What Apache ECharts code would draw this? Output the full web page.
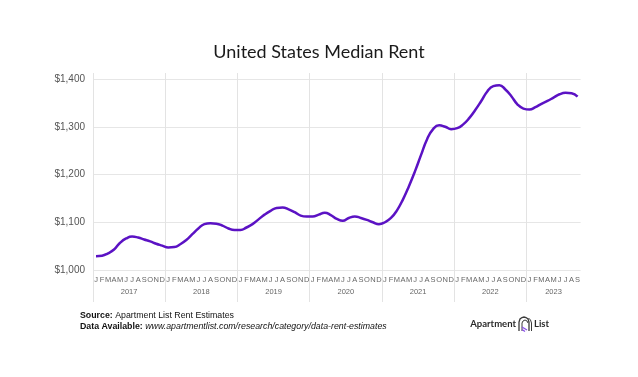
<!DOCTYPE html>
<html>
<head>
<meta charset="utf-8">
<script src="https://cdn.jsdelivr.net/npm/echarts@6/dist/echarts.min.js"></script>
<style>
html,body{margin:0;padding:0;background:#fff;}
#chart{width:638px;height:377px;}
</style>
</head>
<body>
<div id="chart"></div>
<script>
// ---- data ----
const years = ['2017','2018','2019','2020','2021','2022','2023'];
const monthLetters = ['J','F','M','A','M','J','J','A','S','O','N','D'];
const rent2017 = [1029,1030,1035,1043,1057,1066,1070,1068,1064,1060,1055,1051];
const rent2018 = [1047,1048,1054,1063,1075,1087,1096,1098,1097,1093,1087,1084];
const rent2019 = [1084,1089,1096,1106,1116,1124,1130,1131,1127,1121,1114,1112];
const rent2020 = [1112,1116,1120,1115,1107,1103,1109,1112,1109,1105,1100,1096];
const rent2021 = [1100,1109,1125,1148,1176,1207,1241,1274,1295,1303,1300,1295];
const rent2022 = [1297,1305,1318,1335,1354,1374,1385,1387,1378,1364,1347,1338];
const rent2023 = [1336,1341,1348,1354,1361,1368,1371,1370,1363];
const yTicks = [1000,1100,1200,1300,1400];

// ---- build ----
const rentByYear = [rent2017,rent2018,rent2019,rent2020,rent2021,rent2022,rent2023];
const categories = [];
const rent = [];
const yearCenters = {};
rentByYear.forEach((arr, yi) => {
  const start = categories.length;
  arr.forEach((v, mi) => {
    categories.push(years[yi] + '-' + (mi + 1));
    rent.push(v);
  });
  yearCenters[(start + categories.length) / 2] = years[yi];
});
const nMonths = categories.length;

const gridLeft = 93, gridWidth = 487.6;

const chart = echarts.init(document.getElementById('chart'), null, {renderer: 'canvas'});
chart.setOption({
  backgroundColor: '#ffffff',
  animation: false,
  title: {
    text: 'United States Median Rent',
    left: 'center',
    top: 38,
    textStyle: {fontFamily: 'Lato', fontSize: 18, fontWeight: 'normal', color: '#1a1a1a'}
  },
  grid: [
    {left: gridLeft, width: gridWidth, top: 73, height: 229},
    {left: gridLeft, width: gridWidth, top: 79, height: 191}
  ],
  xAxis: [
    {
      type: 'value', gridIndex: 0, min: 0, max: nMonths, interval: 12,
      axisLine: {show: false}, axisTick: {show: false}, axisLabel: {show: false},
      splitLine: {show: true, showMaxLine: false, lineStyle: {color: '#e3e3e3', width: 1}}
    },
    {
      type: 'category', gridIndex: 1, data: categories, boundaryGap: true, position: 'bottom',
      axisLine: {show: false}, axisTick: {show: false}, splitLine: {show: false},
      axisLabel: {
        interval: 0, margin: 6, fontSize: 7.5, color: '#666', fontFamily: 'Liberation Sans',
        formatter: (v) => monthLetters[(parseInt(v.split('-')[1]) - 1)]
      }
    },
    {
      type: 'value', gridIndex: 1, min: 0, max: nMonths, interval: 0.5, position: 'bottom',
      axisLine: {show: false}, axisTick: {show: false}, splitLine: {show: false},
      axisLabel: {
        margin: 17.5, fontSize: 7.5, color: '#666', fontFamily: 'Liberation Sans',
        formatter: (v) => yearCenters[v] || ''
      }
    }
  ],
  yAxis: [
    {type: 'value', gridIndex: 0, show: false, min: 0, max: 1, splitLine: {show: false}},
    {
      type: 'value', gridIndex: 1, min: yTicks[0], max: yTicks[yTicks.length - 1], interval: 100,
      axisLine: {show: false}, axisTick: {show: false},
      splitLine: {lineStyle: {color: '#e6e6e6', width: 1}},
      axisLabel: {
        margin: 8, fontSize: 10, color: '#555', fontFamily: 'Liberation Sans',
        formatter: (v) => '$' + v.toLocaleString('en-US')
      }
    }
  ],
  series: [{
    type: 'line', xAxisIndex: 1, yAxisIndex: 1, data: rent,
    smooth: 0.5, showSymbol: false,
    lineStyle: {color: '#5b12c4', width: 2.5}
  }],
  graphic: [
    {
      type: 'text', left: 80, top: 310,
      style: {
        text: '{b|Source:} Apartment List Rent Estimates\n{b|Data Available:} {i|www.apartmentlist.com/research/category/data-rent-estimates}',
        fontFamily: 'Liberation Sans', fontSize: 8.8, fill: '#111', lineHeight: 11,
        rich: {
          b: {fontWeight: 'bold', fontFamily: 'Liberation Sans', fontSize: 8.8, fill: '#111', lineHeight: 11},
          i: {fontStyle: 'italic', fontFamily: 'Liberation Sans', fontSize: 8.8, fill: '#111', lineHeight: 11}
        }
      }
    },
    {
      type: 'text', x: 516, y: 324,
      style: {text: 'Apartment', fontFamily: 'Lato', fontSize: 9.5, fontWeight: 'bold', fill: '#2a2a2a', align: 'right', verticalAlign: 'middle'}
    },
    {
      type: 'group', x: 519, y: 316,
      children: [
        {type: 'polyline', shape: {points: [[0,15],[0,6],[1,3],[3,1.5],[5,1],[7,1.5],[9,3],[10,6],[10,15]]}, style: {stroke: '#3a3a3a', lineWidth: 1.3, fill: 'none'}},
        {type: 'polyline', shape: {points: [[3,15],[3,7],[4,5],[6,4],[8,5],[9,7]]}, style: {stroke: '#3a3a3a', lineWidth: 1, fill: 'none'}},
        {type: 'polyline', shape: {points: [[12.5,15],[12.5,7],[11.5,4],[9.5,2]]}, style: {stroke: '#3a3a3a', lineWidth: 1, fill: 'none'}},
        {type: 'line', shape: {x1: 3, y1: 11, x2: 8, y2: 14}, style: {stroke: '#8a4fe8', lineWidth: 1.4}},
        {type: 'line', shape: {x1: 3, y1: 13.5, x2: 6, y2: 15.5}, style: {stroke: '#8a4fe8', lineWidth: 1.4}}
      ]
    },
    {
      type: 'text', x: 534, y: 324,
      style: {text: 'List', fontFamily: 'Lato', fontSize: 9.5, fontWeight: 'bold', fill: '#2a2a2a', align: 'left', verticalAlign: 'middle'}
    }
  ]
});
</script>
</body>
</html>
